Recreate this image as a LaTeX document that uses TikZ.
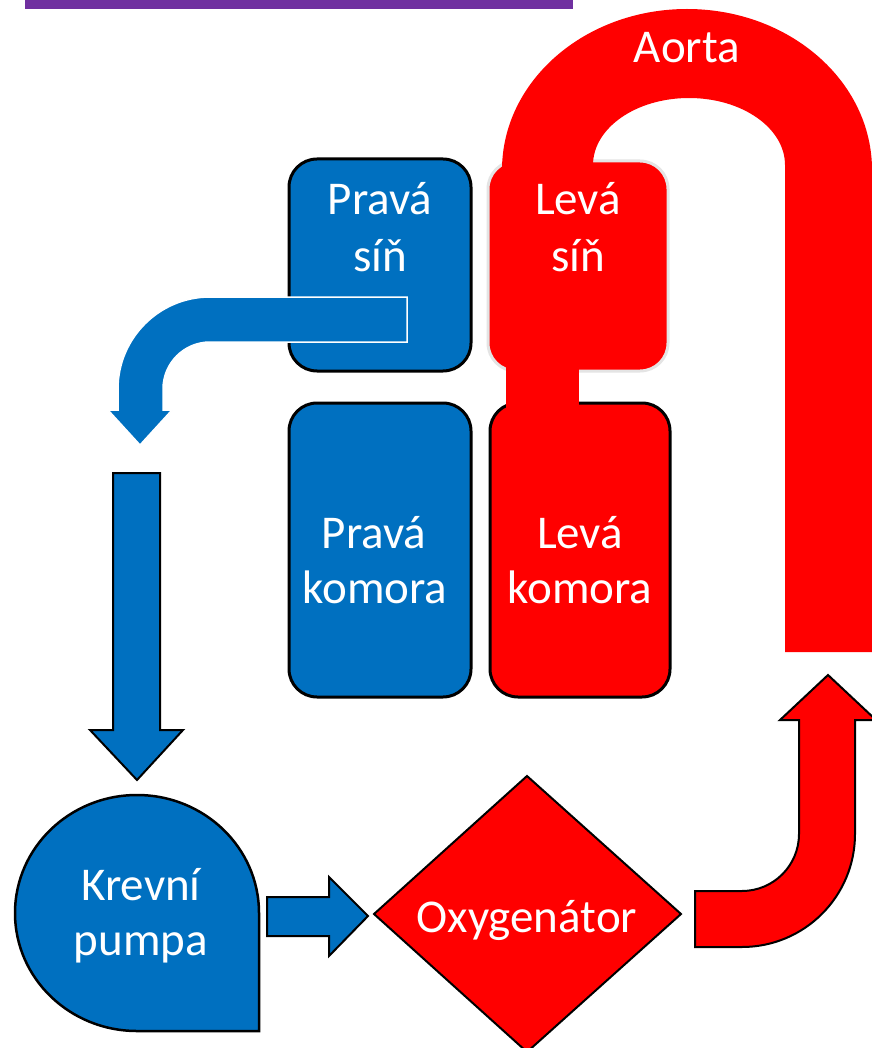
\documentclass[tikz,border=0pt]{standalone}
\usepackage{fontspec}
\setmainfont{Carlito}
\definecolor{cblue}{HTML}{0070C0}
\definecolor{cred}{HTML}{FF0000}
\definecolor{cpurple}{HTML}{7030A0}
\definecolor{cgray}{HTML}{E4E4E4}
\begin{document}
\begin{tikzpicture}[x=1pt,y=-1pt,
  box/.style={rectangle, rounded corners=28pt, line width=3pt, inner sep=0pt},
  bluebox/.style={box, fill=cblue, draw=black},
  redbox/.style={box, fill=cred, draw=black},
  lbl/.style={anchor=base, text=white, inner sep=0pt, font=\fontsize{47}{47}\selectfont},
  blockarrow/.style={line width=2pt, draw=black, line join=miter}
]
\useasboundingbox (0,0) rectangle (871,1048);
% purple bar
\fill[cpurple] (25,-2) rectangle (573,9);

% heart chambers
\node[box, fill=cred, draw=cgray, minimum width=180pt, minimum height=210pt] (ls) at (578,266) {};
\node[bluebox, minimum width=182pt, minimum height=212pt] (ps) at (380,265) {};
\node[bluebox, minimum width=182pt, minimum height=294pt] (pk) at (380,550) {};
\node[redbox, minimum width=180pt, minimum height=294pt] (lk) at (580,550) {};

% aorta
\fill[cred] (502,200) -- (502,170)
  arc[start angle=180, end angle=0, x radius=185pt, y radius=161pt]
  -- (874,652) -- (785,652) -- (785,165)
  arc[start angle=0, end angle=180, x radius=96pt, y radius=67pt]
  -- (593,200) -- cycle;

% connector between left atrium and left ventricle
\fill[cred] (506,360) rectangle (579,410);

% bent blue arrow from right atrium
\filldraw[fill=cblue, draw=white, line width=1.5pt] (407,297) -- (210,297)
  arc[start angle=90, end angle=180, radius=92pt]
  -- (118,410) -- (108,410) -- (140,445) -- (172,410) -- (163,410) -- (163,389)
  arc[start angle=180, end angle=90, radius=47pt]
  -- (407,342) -- cycle;

% straight down arrow
\filldraw[blockarrow, fill=cblue] (113,473) -- (160,473) -- (160,730) -- (183,730)
  -- (137,780) -- (90,730) -- (113,730) -- cycle;

% blood pump (teardrop)
\filldraw[line width=2.5pt, fill=cblue, draw=black] (259,913)
  arc[start angle=0, end angle=270, x radius=122pt, y radius=118pt]
  -- (259,1031) -- cycle;

% arrow pump -> oxygenator
\filldraw[blockarrow, fill=cblue] (267,897) -- (329,897) -- (329,877) -- (368,916)
  -- (329,956) -- (329,936) -- (267,936) -- cycle;

% oxygenator
\filldraw[line width=2pt, fill=cred, draw=black] (374,914) -- (527,776) -- (681,914) -- (527,1052) -- cycle;

% bent red arrow up to aorta
\filldraw[blockarrow, fill=cred] (695,891) -- (742,891)
  arc[start angle=270, end angle=360, radius=57pt]
  -- (799,720) -- (780,720) -- (828,675) -- (876,720) -- (855,720) -- (855,834)
  arc[start angle=0, end angle=-90, radius=113pt]
  -- (695,947) -- cycle;

% texts
\node[lbl] (t-aorta) at (687,63) {Aorta};
\node[lbl] (t-ps1) at (380,215) {Pravá};
\node[lbl] (t-ps2) at (380,272) {síň};
\node[lbl] (t-ls1) at (578,215) {Levá};
\node[lbl] (t-ls2) at (578,272) {síň};
\node[lbl] (t-pk1) at (374,548) {Pravá};
\node[lbl] (t-pk2) at (375,603) {komora};
\node[lbl] (t-lk1) at (580,548) {Levá};
\node[lbl] (t-lk2) at (580,603) {komora};
\node[lbl] (t-kp1) at (141,900) {Krevní};
\node[lbl] (t-kp2) at (141,955) {pumpa};
\node[lbl] (t-ox) at (527,932) {Oxygenátor};
\end{tikzpicture}
\end{document}
